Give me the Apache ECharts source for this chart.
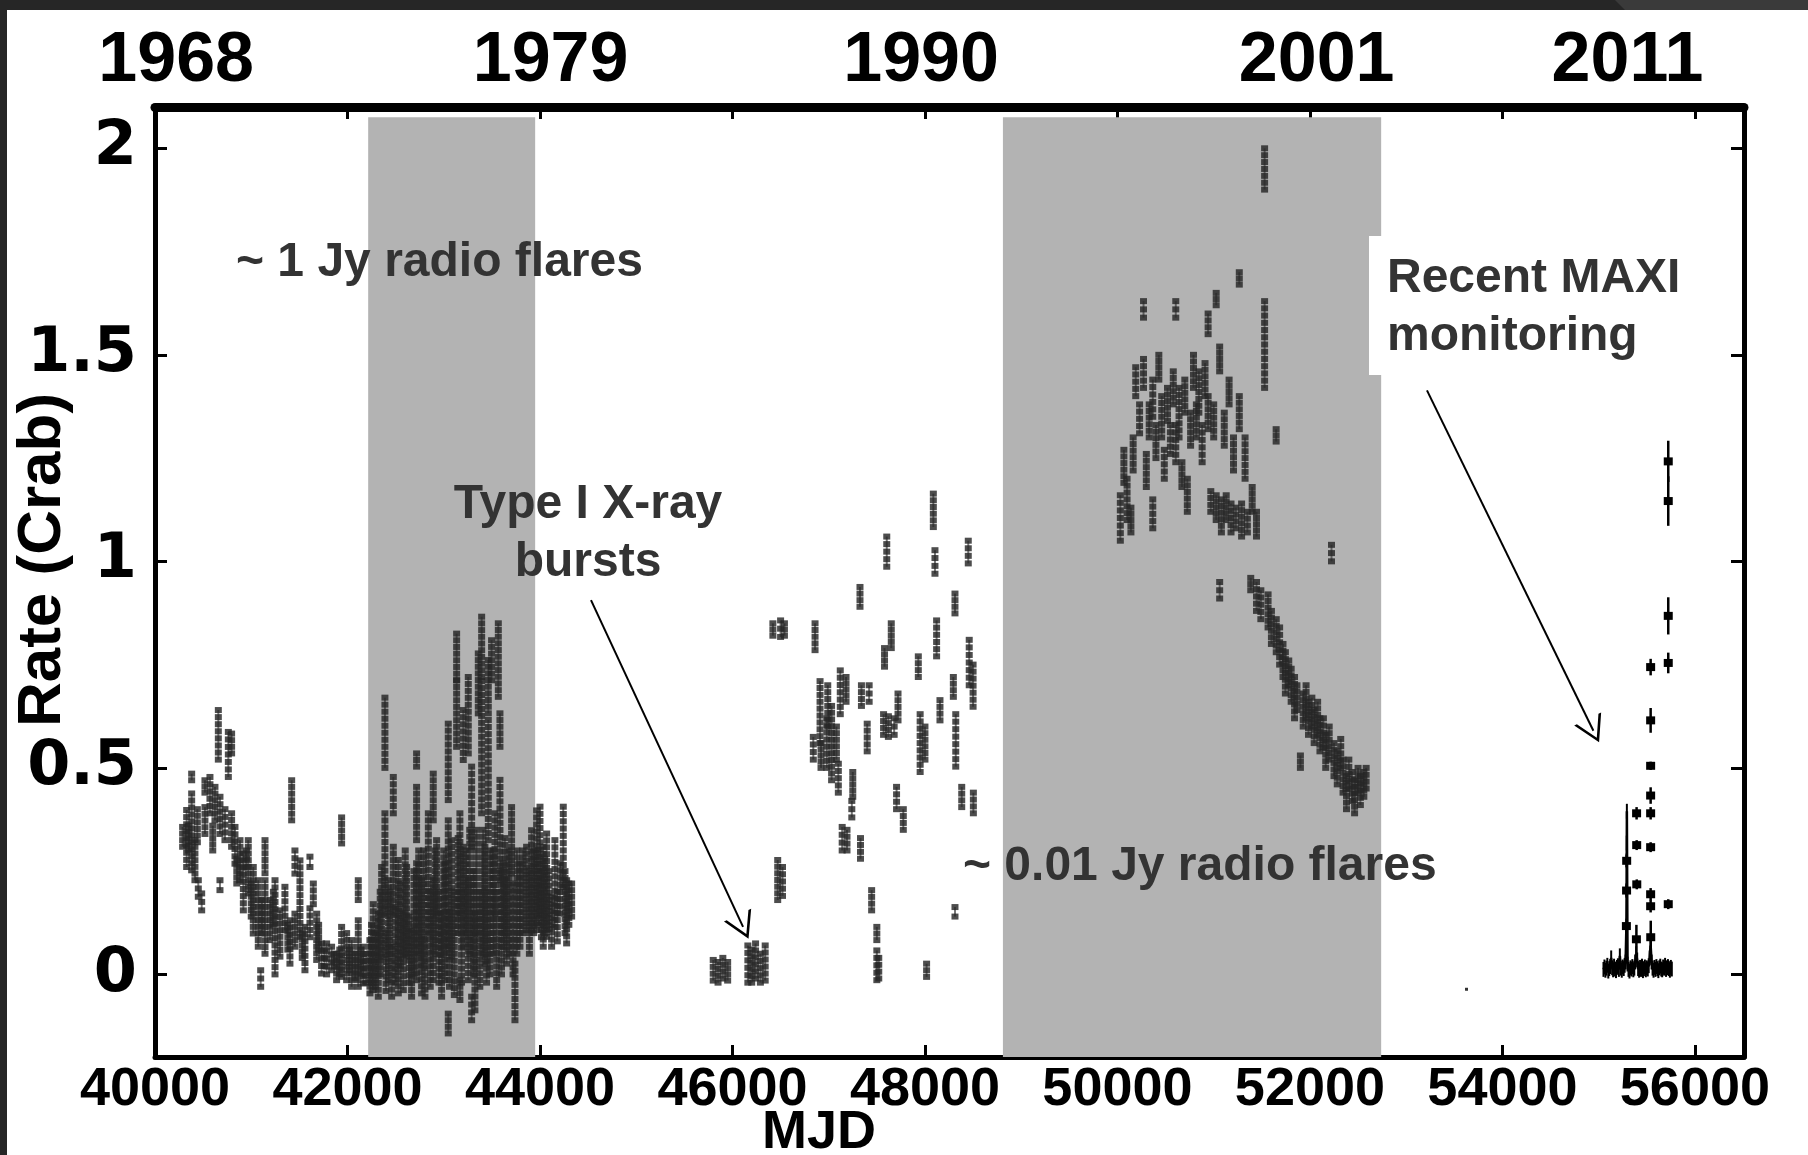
<!DOCTYPE html>
<html>
<head>
<meta charset="utf-8">
<script src="https://cdn.jsdelivr.net/npm/echarts@6/dist/echarts.min.js"></script>
<style>
html, body { margin: 0; padding: 0; background: #fff; }
#chart { width: 1808px; height: 1155px; }
</style>
</head>
<body>
<div id="chart"></div>
<script>
// ---- axes ----
const mjdTicks = [40000, 42000, 44000, 46000, 48000, 50000, 52000, 54000, 56000];
const rateTicks = [0, 0.5, 1, 1.5, 2];
const yearLabels = ['1968', '1979', '1990', '2001', '2011'];
const yearMjd = [40220, 44110, 47960, 52070, 55300];

// shaded intervals [start MJD, end MJD]
const shadedSpans = [[42215, 43950], [48810, 52740]];

// ---- archival light curve: [MJD, low rate, high rate] per dwell group ----
const cols1969to1974 = [
  [40287, 0.309, 0.357], [40329, 0.26, 0.398], [40350, 0.30, 0.36], [40381, 0.47, 0.486],
  [40381, 0.252, 0.438], [40415, 0.228, 0.325], [40440, 0.32, 0.40], [40450, 0.188, 0.228],
  [40485, 0.155, 0.196], [40519, 0.44, 0.47], [40519, 0.34, 0.405], [40571, 0.39, 0.478],
  [40600, 0.30, 0.36], [40623, 0.373, 0.454], [40658, 0.52, 0.64], [40675, 0.34, 0.43],
  [40675, 0.204, 0.228], [40727, 0.325, 0.40], [40762, 0.478, 0.587], [40796, 0.535, 0.583],
  [40796, 0.309, 0.39], [40831, 0.268, 0.357], [40850, 0.22, 0.28], [40883, 0.228, 0.325],
  [40918, 0.155, 0.293], [40950, 0.26, 0.30], [40969, 0.196, 0.325], [41000, 0.14, 0.22],
  [41021, 0.099, 0.26], [41073, 0.067, 0.228], [41098, -0.03, 0.01], [41110, 0.10, 0.18],
  [41143, 0.245, 0.325], [41143, 0.05, 0.228], [41195, 0.083, 0.18], [41230, 0.12, 0.20],
  [41247, 0.0, 0.228], [41298, 0.043, 0.155], [41350, 0.107, 0.212], [41380, 0.06, 0.12],
  [41402, 0.026, 0.131], [41420, 0.373, 0.47], [41454, 0.244, 0.30], [41454, 0.067, 0.147],
  [41506, 0.091, 0.276], [41530, 0.04, 0.10], [41558, 0.01, 0.115], [41610, 0.26, 0.285],
  [41610, 0.09, 0.16], [41645, 0.17, 0.22], [41680, 0.035, 0.147], [41700, 0.06, 0.12],
  [41731, 0.002, 0.075], [41760, 0.02, 0.06], [41783, 0.0, 0.075], [41835, 0.01, 0.067],
  [41860, 0.02, 0.05], [41887, -0.014, 0.05], [41920, 0.0, 0.06], [41939, 0.317, 0.38],
  [41939, -0.006, 0.115], [41991, -0.014, 0.10], [42020, 0.01, 0.06], [42043, -0.03, 0.083],
  [42080, -0.01, 0.05], [42112, 0.18, 0.228], [42112, -0.03, 0.131], [42140, 0.0, 0.06],
  [42164, -0.022, 0.067], [42190, -0.02, 0.05]
];

const cols1974to1979 = [
  [42233, -0.046, 0.083], [42250, -0.02, 0.12], [42268, -0.038, 0.17], [42290, -0.03, 0.10],
  [42320, -0.054, 0.147], [42340, 0.0, 0.20], [42355, 0.043, 0.26], [42389, 0.50, 0.67],
  [42389, 0.147, 0.39], [42400, -0.04, 0.10], [42424, -0.014, 0.228], [42440, 0.05, 0.20],
  [42459, -0.054, 0.067], [42476, 0.39, 0.478], [42476, 0.147, 0.309], [42500, -0.02, 0.16],
  [42528, -0.046, 0.277], [42550, 0.02, 0.22], [42580, -0.038, 0.147], [42600, 0.05, 0.30],
  [42614, 0.043, 0.26], [42640, -0.02, 0.14], [42666, -0.054, 0.107], [42690, 0.0, 0.25],
  [42718, 0.503, 0.535], [42718, 0.325, 0.454], [42718, -0.014, 0.269], [42740, 0.05, 0.30],
  [42770, -0.046, 0.228], [42790, 0.02, 0.30], [42805, -0.054, 0.083], [42840, 0.099, 0.39],
  [42860, -0.03, 0.20], [42891, 0.373, 0.486], [42891, -0.014, 0.228], [42910, 0.05, 0.30],
  [42926, 0.147, 0.325], [42950, -0.02, 0.20], [42978, -0.054, 0.147], [43000, 0.05, 0.30],
  [43013, -0.014, 0.269], [43047, 0.422, 0.607], [43047, 0.067, 0.373], [43047, -0.143, -0.095],
  [43060, -0.03, 0.15], [43082, 0.043, 0.325], [43110, -0.05, 0.20], [43134, 0.712, 0.825],
  [43134, 0.551, 0.712], [43150, 0.10, 0.33], [43168, 0.147, 0.39], [43168, -0.062, -0.014],
  [43185, -0.02, 0.20], [43203, 0.519, 0.64], [43203, 0.067, 0.309], [43230, 0.10, 0.30],
  [43255, 0.535, 0.72], [43255, -0.014, 0.228], [43270, 0.05, 0.35], [43290, 0.309, 0.503],
  [43290, -0.111, -0.054], [43310, 0.0, 0.25], [43324, -0.087, 0.147], [43340, 0.10, 0.35],
  [43359, 0.632, 0.777], [43375, -0.03, 0.20], [43394, 0.72, 0.866], [43394, 0.39, 0.71],
  [43410, 0.05, 0.35], [43428, 0.026, 0.309], [43445, -0.02, 0.20], [43463, 0.632, 0.761],
  [43463, 0.325, 0.616], [43480, 0.0, 0.30], [43497, 0.712, 0.809], [43515, 0.05, 0.30],
  [43532, 0.147, 0.39], [43550, -0.03, 0.20], [43567, 0.672, 0.85], [43584, 0.551, 0.632],
  [43584, 0.228, 0.471], [43600, 0.0, 0.25], [43619, 0.067, 0.269], [43635, 0.10, 0.33],
  [43653, 0.026, 0.228], [43680, 0.05, 0.30], [43705, 0.244, 0.405], [43720, 0.0, 0.22],
  [43740, -0.111, 0.026], [43760, 0.05, 0.30], [43792, 0.067, 0.269], [43820, 0.10, 0.30],
  [43861, 0.107, 0.309], [43890, 0.05, 0.25], [43913, 0.107, 0.349], [43935, 0.10, 0.30]
];

const cols1979to1980 = [
  [43965, 0.107, 0.397], [43980, 0.12, 0.30], [44000, 0.147, 0.406], [44015, 0.09, 0.25],
  [44034, 0.067, 0.309], [44050, 0.10, 0.28], [44069, 0.091, 0.341], [44095, 0.11, 0.25],
  [44121, 0.067, 0.188], [44155, 0.115, 0.325], [44180, 0.08, 0.20], [44207, 0.147, 0.269],
  [44242, 0.212, 0.406], [44260, 0.10, 0.25], [44277, 0.075, 0.228], [44300, 0.12, 0.22],
  [44329, 0.14, 0.22]
];

const cols1984to1985 = [
  [45800, -0.015, 0.035], [45850, -0.02, 0.03], [45900, -0.01, 0.04], [45950, -0.015, 0.03],
  [46160, -0.02, 0.07], [46200, -0.02, 0.06], [46240, -0.01, 0.075], [46290, -0.02, 0.05],
  [46340, -0.015, 0.07]
];

const cols1985to1992 = [
  [46420, 0.82, 0.85], [46470, 0.18, 0.277], [46500, 0.817, 0.857], [46520, 0.19, 0.26],
  [46540, 0.82, 0.85], [46840, 0.52, 0.575], [46858, 0.785, 0.85], [46910, 0.56, 0.71],
  [46920, 0.50, 0.56], [46980, 0.50, 0.62], [46990, 0.60, 0.70], [47030, 0.47, 0.65],
  [47080, 0.52, 0.60], [47100, 0.44, 0.51], [47120, 0.63, 0.736], [47140, 0.30, 0.357],
  [47180, 0.66, 0.72], [47190, 0.30, 0.35], [47240, 0.38, 0.42], [47250, 0.43, 0.49],
  [47325, 0.89, 0.938], [47330, 0.28, 0.33], [47340, 0.65, 0.70], [47400, 0.54, 0.607],
  [47420, 0.66, 0.70], [47446, 0.155, 0.204], [47500, 0.083, 0.115], [47500, -0.014, 0.058],
  [47520, -0.01, 0.04], [47570, 0.58, 0.63], [47580, 0.745, 0.79], [47603, 0.987, 1.06],
  [47620, 0.575, 0.625], [47650, 0.79, 0.85], [47680, 0.58, 0.62], [47705, 0.40, 0.454],
  [47720, 0.615, 0.68], [47775, 0.35, 0.40], [47931, 0.72, 0.77], [47950, 0.49, 0.63],
  [48000, 0.52, 0.60], [48017, -0.006, 0.026], [48087, 1.083, 1.164], [48104, 0.97, 1.027],
  [48121, 0.77, 0.857], [48156, 0.615, 0.664], [48295, 0.672, 0.72], [48312, 0.874, 0.922],
  [48312, 0.14, 0.163], [48320, 0.503, 0.63], [48382, 0.405, 0.454], [48450, 0.995, 1.05],
  [48460, 0.70, 0.81], [48500, 0.648, 0.75], [48503, 0.39, 0.44]
];

const cols1996to2002 = [
  [50030, 1.05, 1.16], [50067, 1.19, 1.27], [50100, 1.10, 1.20], [50140, 1.07, 1.13],
  [50163, 1.22, 1.30], [50190, 1.40, 1.47], [50230, 1.31, 1.38], [50271, 1.59, 1.63],
  [50271, 1.42, 1.49], [50300, 1.18, 1.26], [50330, 1.30, 1.38], [50367, 1.35, 1.44],
  [50367, 1.08, 1.15], [50400, 1.25, 1.33], [50430, 1.44, 1.50], [50460, 1.30, 1.40],
  [50487, 1.20, 1.27], [50520, 1.34, 1.42], [50550, 1.26, 1.33], [50580, 1.38, 1.46],
  [50606, 1.59, 1.63], [50606, 1.24, 1.33], [50640, 1.30, 1.42], [50670, 1.18, 1.24],
  [50700, 1.36, 1.44], [50726, 1.12, 1.20], [50760, 1.28, 1.36], [50790, 1.42, 1.50],
  [50820, 1.30, 1.38], [50846, 1.36, 1.46], [50880, 1.24, 1.33], [50910, 1.40, 1.48],
  [50942, 1.55, 1.60], [50942, 1.32, 1.40], [50970, 1.12, 1.17], [51000, 1.30, 1.38],
  [51026, 1.62, 1.65], [51026, 1.10, 1.16], [51062, 0.91, 0.95], [51062, 1.46, 1.52],
  [51080, 1.07, 1.15], [51110, 1.28, 1.36], [51130, 1.10, 1.16], [51160, 1.38, 1.44],
  [51180, 1.07, 1.14], [51206, 1.22, 1.30], [51230, 1.08, 1.13], [51266, 1.67, 1.70],
  [51266, 1.32, 1.40], [51290, 1.06, 1.14], [51326, 1.20, 1.30], [51350, 1.07, 1.12],
  [51385, 0.93, 0.96], [51400, 1.12, 1.18], [51445, 0.88, 0.95], [51445, 1.06, 1.12],
  [51490, 0.86, 0.93], [51529, 1.90, 2.00], [51529, 1.42, 1.63], [51565, 0.84, 0.92],
  [51600, 0.80, 0.88], [51649, 1.29, 1.32], [51650, 0.78, 0.86], [51685, 0.75, 0.84],
  [51720, 0.72, 0.80], [51745, 0.68, 0.78], [51780, 0.70, 0.76], [51805, 0.66, 0.74],
  [51840, 0.62, 0.72], [51865, 0.64, 0.70], [51901, 0.50, 0.53], [51930, 0.60, 0.68],
  [51960, 0.62, 0.70], [51985, 0.58, 0.66], [52020, 0.60, 0.67], [52044, 0.56, 0.64],
  [52080, 0.58, 0.66], [52104, 0.54, 0.62], [52140, 0.55, 0.62], [52164, 0.50, 0.58],
  [52200, 0.52, 0.60], [52224, 1.00, 1.04], [52250, 0.48, 0.56], [52284, 0.46, 0.54],
  [52320, 0.50, 0.57], [52344, 0.44, 0.52], [52380, 0.40, 0.48], [52404, 0.45, 0.52],
  [52440, 0.42, 0.49], [52464, 0.39, 0.47], [52500, 0.44, 0.50], [52524, 0.41, 0.48],
  [52560, 0.43, 0.49], [52584, 0.45, 0.50]
];

// isolated low point near MJD 53600
const strayPoint = [[53627, -0.036]];

// ---- MAXI daily light curve ----
const maxiBaseMjd = [55050, 55060, 55070, 55080, 55090, 55100, 55110, 55120, 55130, 55140,
  55150, 55160, 55170, 55180, 55190, 55200, 55210, 55220, 55230, 55240, 55250, 55260, 55270,
  55280, 55288, 55290, 55291, 55292, 55293, 55300, 55310, 55320, 55330, 55340, 55350, 55360,
  55370, 55380, 55390, 55400, 55410, 55420, 55430, 55440, 55450, 55460, 55470, 55480, 55490,
  55500, 55510, 55520, 55530, 55540, 55550, 55560, 55570, 55580, 55590, 55600, 55610, 55620,
  55630, 55640, 55650, 55660, 55670, 55680, 55690, 55700, 55710, 55720, 55730, 55740, 55750, 55760];
const maxiBaseRate = [0.012, 0.018, 0.010, 0.015, 0.022, 0.008, 0.014, 0.019, 0.040, 0.016,
  0.011, 0.020, 0.013, 0.009, 0.017, 0.021, 0.012, 0.045, 0.015, 0.010, 0.018, 0.014, 0.022,
  0.030, 0.117, 0.203, 0.275, 0.318, 0.395, 0.025, 0.012, 0.008, 0.016, 0.013, 0.019, 0.011,
  0.015, 0.030, 0.050, 0.035, 0.014, 0.010, 0.017, 0.012, 0.020, 0.009, 0.014, 0.018, 0.011,
  0.016, 0.013, 0.021, 0.040, 0.070, 0.030, 0.015, 0.010, 0.017, 0.012, 0.019, 0.014, 0.009,
  0.016, 0.020, 0.013, 0.011, 0.018, 0.015, 0.022, 0.012, 0.016, 0.019, 0.014, 0.010, 0.017, 0.013];
const maxiBaseErr = 0.018;

const maxiFlareMjd = [55288, 55290, 55291, 55392, 55394, 55395, 55396, 55540, 55540, 55540,
  55540, 55540, 55540, 55540, 55540, 55541, 55723, 55723, 55723, 55723, 55723];
const maxiFlareRate = [0.117, 0.203, 0.275, 0.085, 0.39, 0.313, 0.218, 0.744, 0.615, 0.505,
  0.433, 0.39, 0.308, 0.194, 0.165, 0.09, 1.242, 1.146, 0.868, 0.754, 0.17];
const maxiFlareErr = [0.01, 0.015, 0.015, 0.035, 0.015, 0.012, 0.012, 0.02, 0.03, 0.01,
  0.02, 0.015, 0.012, 0.015, 0.015, 0.04, 0.05, 0.06, 0.045, 0.025, 0.012];

// ---- annotation arrows, in data coordinates [MJD, rate] ----
const burstArrow = [[44530, 0.906], [46110, 0.115]];
const maxiArrow = [[53216, 1.414], [54945, 0.59]];

const FONT = '"Liberation Sans", Arial, Helvetica, sans-serif';

// one vertical chain of small squares per dwell group
function renderColumn(params, api) {
  const m = api.value(0), lo = api.value(1), hi = api.value(2);
  const pTop = api.coord([m, hi]);
  const pBot = api.coord([m, lo]);
  const w = 7, sq = 6, step = 7;
  const span = pBot[1] - pTop[1];
  const n = Math.max(1, Math.round(span / step) + 1);
  const children = [{
    type: 'line',
    shape: { x1: pTop[0], y1: pTop[1], x2: pTop[0], y2: pBot[1] },
    style: { stroke: 'rgba(60,60,60,0.7)', lineWidth: 2 }
  }];
  for (let i = 0; i < n; i++) {
    const cy = n === 1 ? (pTop[1] + pBot[1]) / 2 : pTop[1] + span * i / (n - 1);
    children.push({
      type: 'rect',
      shape: { x: pTop[0] - w / 2, y: cy - sq / 2, width: w, height: sq },
      style: { fill: 'rgba(38,38,38,0.82)' }
    });
  }
  return { type: 'group', children };
}

// MAXI point: error bar plus filled marker
function renderMaxi(params, api) {
  const m = api.value(0), r = api.value(1), e = api.value(2);
  const c = api.coord([m, r]);
  const t = api.coord([m, r + e]);
  const b = api.coord([m, r - e]);
  return {
    type: 'group',
    children: [
      { type: 'line', shape: { x1: c[0], y1: t[1], x2: c[0], y2: b[1] }, style: { stroke: '#000', lineWidth: 2.5 } },
      { type: 'rect', shape: { x: c[0] - 4.5, y: c[1] - 4, width: 9, height: 8 }, style: { fill: '#000' } }
    ]
  };
}

function renderBaseBar(params, api) {
  const m = api.value(0), r = api.value(1), e = api.value(2);
  const t = api.coord([m, r + e]);
  const b = api.coord([m, r - e]);
  return { type: 'line', shape: { x1: t[0], y1: t[1], x2: b[0], y2: b[1] }, style: { stroke: '#000', lineWidth: 2 } };
}

const archival = [].concat(cols1969to1974, cols1974to1979, cols1979to1980,
  cols1984to1985, cols1985to1992, cols1996to2002);
const maxiBase = maxiBaseMjd.map((m, i) => [m, maxiBaseRate[i], maxiBaseErr]);
const maxiFlares = maxiFlareMjd.map((m, i) => [m, maxiFlareRate[i], maxiFlareErr[i]]);

const chevron = 'path://M0,10 L5,0 L10,10 L9,10 L5,2 L1,10 Z';

const axisLineStyle = { color: '#000', width: 5 };
const tickStyle = { color: '#000', width: 3 };
const noteFont = 'bold 48px ' + FONT;

const chart = echarts.init(document.getElementById('chart'), null, { renderer: 'canvas' });
chart.setOption({
  animation: false,
  backgroundColor: '#fff',
  grid: { left: 155, right: 64, top: 107, bottom: 98, containLabel: false, outerBoundsMode: 'none' },
  xAxis: [
    {
      type: 'value', position: 'bottom', min: 40000, max: 56510,
      axisLine: { show: true, onZero: false, lineStyle: axisLineStyle },
      axisTick: { show: true, inside: true, length: 12, lineStyle: tickStyle, customValues: mjdTicks },
      axisLabel: {
        customValues: mjdTicks, margin: 6, color: '#000', fontSize: 54, fontWeight: 'bold', fontFamily: FONT,
        formatter: v => String(v)
      },
      splitLine: { show: false }
    },
    {
      type: 'value', position: 'top', min: 40000, max: 56510,
      axisLine: { show: true, onZero: false, lineStyle: { color: '#000', width: 9 } },
      axisTick: { show: true, inside: true, length: 12, lineStyle: tickStyle, customValues: mjdTicks.slice(1) },
      axisLabel: {
        customValues: yearMjd, margin: 10, color: '#000', fontSize: 70, fontWeight: 'bold', fontFamily: FONT,
        formatter: v => yearLabels[yearMjd.indexOf(v)]
      },
      splitLine: { show: false }
    }
  ],
  yAxis: [
    {
      type: 'value', position: 'left', min: -0.2, max: 2.1,
      axisLine: { show: true, onZero: false, lineStyle: axisLineStyle },
      axisTick: { show: true, inside: true, length: 12, lineStyle: tickStyle, customValues: rateTicks },
      axisLabel: {
        customValues: rateTicks, margin: 18, color: '#000', fontSize: 62, fontWeight: 'bold',
        fontFamily: '"DejaVu Sans", sans-serif', formatter: v => String(v)
      },
      splitLine: { show: false }
    },
    {
      type: 'value', position: 'right', min: -0.2, max: 2.1,
      axisLine: { show: true, onZero: false, lineStyle: axisLineStyle },
      axisTick: { show: true, inside: true, length: 13, lineStyle: tickStyle, customValues: rateTicks },
      axisLabel: { show: false },
      splitLine: { show: false }
    }
  ],
  series: [
    {
      // shaded intervals and annotation arrows
      type: 'line', data: [], z: 1, silent: true,
      markArea: {
        silent: true,
        itemStyle: { color: '#b3b3b3' },
        data: shadedSpans.map(s => [{ xAxis: s[0], yAxis: -0.2 }, { xAxis: s[1], yAxis: 2.075 }])
      },
      markLine: {
        silent: true,
        symbol: ['none', chevron],
        symbolSize: [30, 26],
        label: { show: false },
        lineStyle: { color: '#000', width: 2, type: 'solid' },
        data: [
          [{ coord: burstArrow[0] }, { coord: burstArrow[1] }],
          [{ coord: maxiArrow[0] }, { coord: maxiArrow[1] }]
        ]
      }
    },
    {
      type: 'custom', name: 'archival', z: 3, clip: true,
      renderItem: renderColumn,
      encode: { x: 0, y: [1, 2] },
      data: archival
    },
    {
      type: 'scatter', z: 3, symbol: 'rect', symbolSize: 3,
      itemStyle: { color: '#000' }, data: strayPoint
    },
    {
      type: 'line', z: 4, symbol: 'none',
      lineStyle: { color: '#000', width: 2.5 },
      data: maxiBaseMjd.map((m, i) => [m, maxiBaseRate[i]])
    },
    {
      type: 'custom', z: 4, clip: true, renderItem: renderBaseBar,
      encode: { x: 0, y: 1 }, data: maxiBase
    },
    {
      type: 'custom', z: 5, clip: true, renderItem: renderMaxi,
      encode: { x: 0, y: 1 }, data: maxiFlares
    }
  ],
  graphic: [
    // dark frame of the page
    { type: 'rect', left: 0, top: 0, shape: { width: 1808, height: 10 }, style: { fill: '#262626' }, z: 100 },
    { type: 'polygon', shape: { points: [[1615, 0], [1808, 0], [1808, 10], [1625, 10]] }, style: { fill: '#3a3a3a' }, z: 101 },
    { type: 'rect', left: 0, top: 0, shape: { width: 7, height: 1155 }, style: { fill: '#262626' }, z: 100 },
    // axis titles
    { type: 'text', x: 43, y: 560, rotation: Math.PI / 2, z: 60,
      style: { text: 'Rate (Crab)', font: 'bold 62px ' + FONT, fill: '#000', align: 'center', verticalAlign: 'middle' } },
    { type: 'text', x: 819, y: 1133, z: 60,
      style: { text: 'MJD', font: 'bold 54px ' + FONT, fill: '#000', align: 'center', verticalAlign: 'middle' } },
    // box behind the MAXI note
    { type: 'rect', shape: { x: 1369, y: 236, width: 314, height: 139 }, style: { fill: '#fff' }, z: 50 },
    { type: 'text', x: 236, y: 263, z: 60, style: { text: '~ 1 Jy radio flares', font: noteFont, fill: '#333', verticalAlign: 'middle' } },
    { type: 'text', x: 588, y: 505, z: 60, style: { text: 'Type I X-ray', font: noteFont, fill: '#333', align: 'center', verticalAlign: 'middle' } },
    { type: 'text', x: 588, y: 563, z: 60, style: { text: 'bursts', font: noteFont, fill: '#333', align: 'center', verticalAlign: 'middle' } },
    { type: 'text', x: 963, y: 867, z: 60, style: { text: '~ 0.01 Jy radio flares', font: noteFont, fill: '#333', verticalAlign: 'middle' } },
    { type: 'text', x: 1387, y: 279, z: 60, style: { text: 'Recent MAXI', font: noteFont, fill: '#333', verticalAlign: 'middle' } },
    { type: 'text', x: 1387, y: 337, z: 60, style: { text: 'monitoring', font: noteFont, fill: '#333', verticalAlign: 'middle' } }
  ]
});
</script>
</body>
</html>
